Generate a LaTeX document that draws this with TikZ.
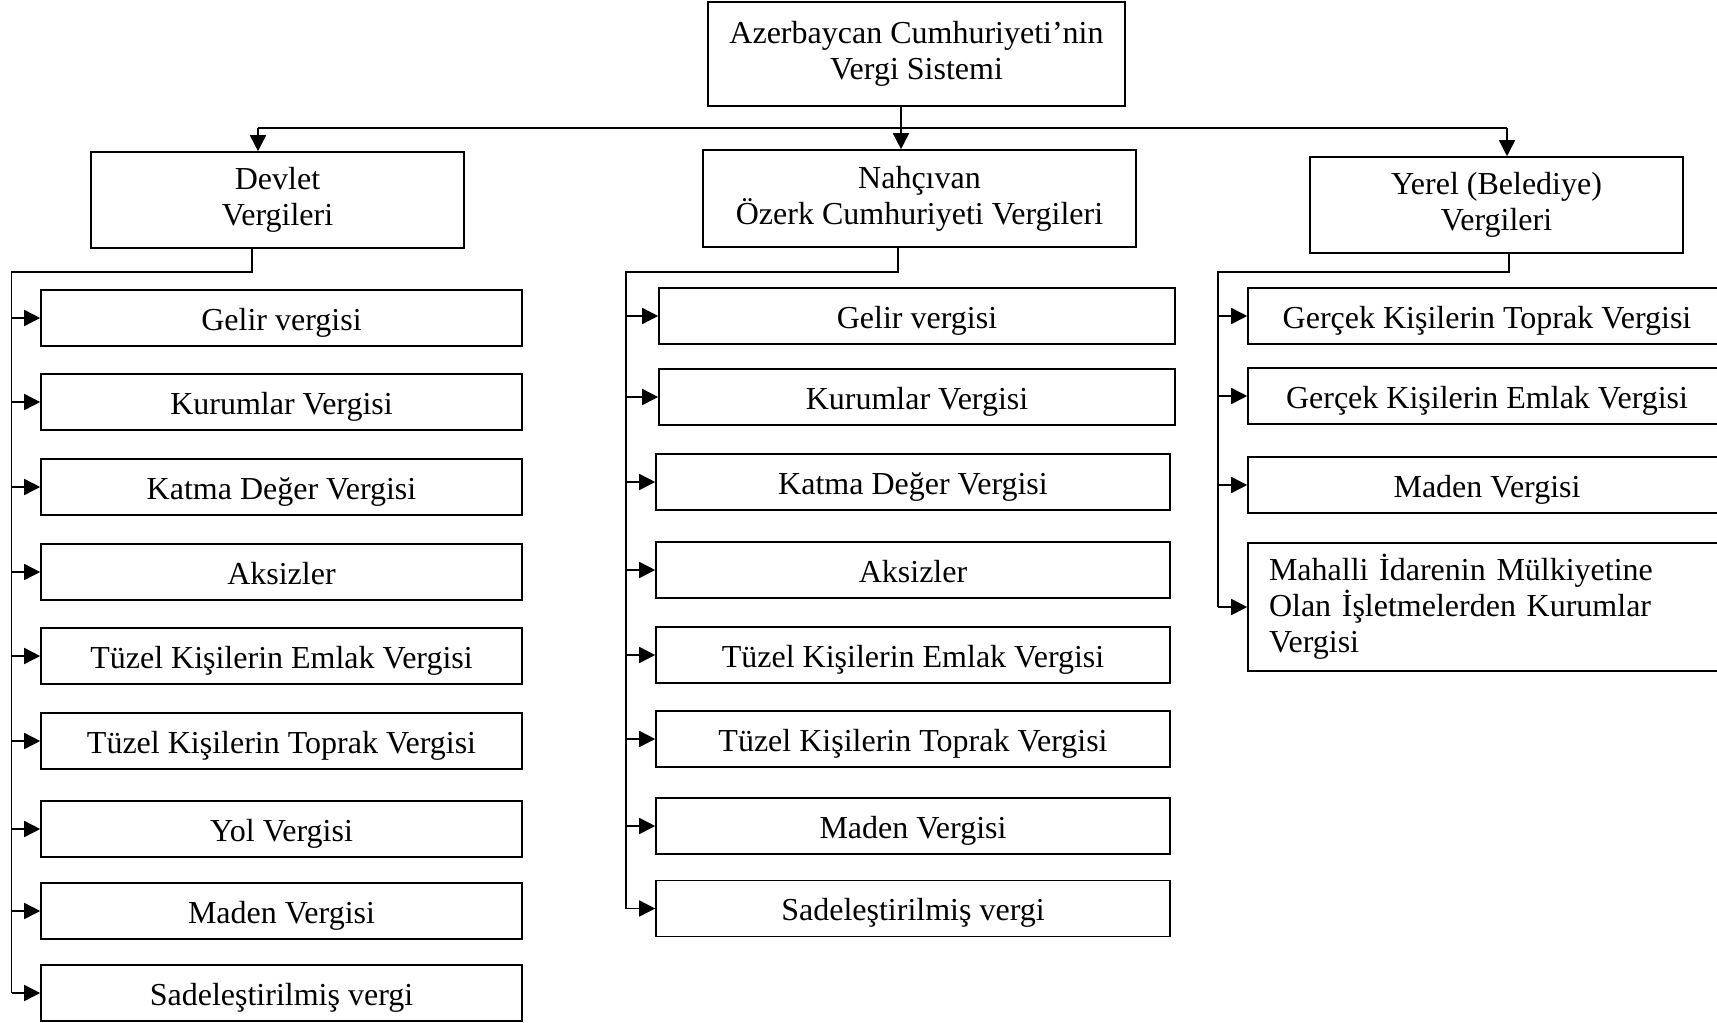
\documentclass[tikz,border=0pt]{standalone}
\usepackage{fontspec}
\setmainfont{Liberation Serif}
\usetikzlibrary{arrows.meta}

\begin{document}
\begin{tikzpicture}[x=0.5pt,y=-0.5pt,
  cell/.style={draw, line width=0.8pt, inner sep=0pt, minimum height=28pt,
               font=\fontsize{16}{18}\selectfont, text height=13pt, text depth=1pt},
  head/.style={draw, line width=0.8pt, inner sep=0pt, align=center,
               font=\fontsize{16}{18}\selectfont},
  wire/.style={line width=0.8pt},
  arr/.style={line width=0.8pt, -{Triangle[length=8pt,width=8pt]}}]
\useasboundingbox (0,0) rectangle (1717,1022);

% top level
\node[head, minimum width=208.5pt, minimum height=52pt] (root) at (916.5,54)
  {Azerbaycan Cumhuriyeti’nin\\Vergi Sistemi};

% second level
\node[head, minimum width=186.5pt, minimum height=48pt] (dev) at (277.5,200)
  {Devlet\\Vergileri};
\node[head, minimum width=216.5pt, minimum height=48.5pt] (nah) at (919.5,198.5)
  {Nahçıvan\\Özerk Cumhuriyeti Vergileri};
\node[head, minimum width=186.5pt, minimum height=48pt] (yer) at (1496.5,205)
  {Yerel (Belediye)\\Vergileri};

% state taxes
\begin{scope}[every node/.append style={cell, minimum width=240.5pt}]
\node (a1) at (281.5,318) {Gelir vergisi};
\node (a2) at (281.5,402) {Kurumlar Vergisi};
\node (a3) at (281.5,487) {Katma Değer Vergisi};
\node (a4) at (281.5,572) {Aksizler};
\node (a5) at (281.5,656) {Tüzel Kişilerin Emlak Vergisi};
\node (a6) at (281.5,741) {Tüzel Kişilerin Toprak Vergisi};
\node (a7) at (281.5,829) {Yol Vergisi};
\node (a8) at (281.5,911) {Maden Vergisi};
\node (a9) at (281.5,993) {Sadeleştirilmiş vergi};
\end{scope}

% Nakhchivan taxes
\begin{scope}[every node/.append style={cell}]
\node[minimum width=258pt] (b1) at (917,316) {Gelir vergisi};
\node[minimum width=258pt] (b2) at (917,397) {Kurumlar Vergisi};
\node[minimum width=257pt] (b3) at (913,482) {Katma Değer Vergisi};
\node[minimum width=257pt] (b4) at (913,570) {Aksizler};
\node[minimum width=257pt] (b5) at (913,655) {Tüzel Kişilerin Emlak Vergisi};
\node[minimum width=257pt] (b6) at (913,739) {Tüzel Kişilerin Toprak Vergisi};
\node[minimum width=257pt] (b7) at (913,826) {Maden Vergisi};
\node[minimum width=257pt] (b8) at (913,908.5) {Sadeleştirilmiş vergi};
\end{scope}

% local taxes
\begin{scope}[every node/.append style={cell, minimum width=239pt}]
\node (c1) at (1487,316) {Gerçek Kişilerin Toprak Vergisi};
\node (c2) at (1487,396) {Gerçek Kişilerin Emlak Vergisi};
\node (c3) at (1487,485) {Maden Vergisi};
\end{scope}
\node[draw, line width=0.8pt, inner xsep=10.5pt, inner ysep=0pt, minimum height=64pt,
      text width=218pt, align=left, font=\fontsize{16}{18}\selectfont] (c4) at (1487,607)
  {Mahalli İdarenin Mülkiyetine\\Olan İşletmelerden Kurumlar\\Vergisi};

% distribution bus under the root
\coordinate (jL) at (258,128);
\coordinate (jM) at (901,128);
\coordinate (jR) at (1507,128);
\draw[wire] (root.south -| jM) -- (jM);
\draw[wire] (jL) -- (jR);
\draw[arr] (jL) -- (jL |- dev.north);
\draw[arr] (jM) -- (jM |- nah.north);
\draw[arr] (jR) -- (jR |- yer.north);

% state branch
\coordinate (aS) at (252,272);
\coordinate (aL) at (11.5,272);
\draw[wire] (dev.south -| aS) -- (aS) -- (aL) -- (aL |- a9.west);
\foreach \n in {a1,a2,a3,a4,a5,a6,a7,a8,a9}
  \draw[arr] (aL |- \n.west) -- (\n.west);

% Nakhchivan branch
\coordinate (bS) at (898,272);
\coordinate (bL) at (626,272);
\draw[wire] (nah.south -| bS) -- (bS) -- (bL) -- (bL |- b8.west);
\foreach \n in {b1,b2,b3,b4,b5,b6,b7,b8}
  \draw[arr] (bL |- \n.west) -- (\n.west);

% local branch
\coordinate (cS) at (1509,272);
\coordinate (cL) at (1218,272);
\draw[wire] (yer.south -| cS) -- (cS) -- (cL) -- (cL |- c4.west);
\foreach \n in {c1,c2,c3,c4}
  \draw[arr] (cL |- \n.west) -- (\n.west);
\end{tikzpicture}
\end{document}
